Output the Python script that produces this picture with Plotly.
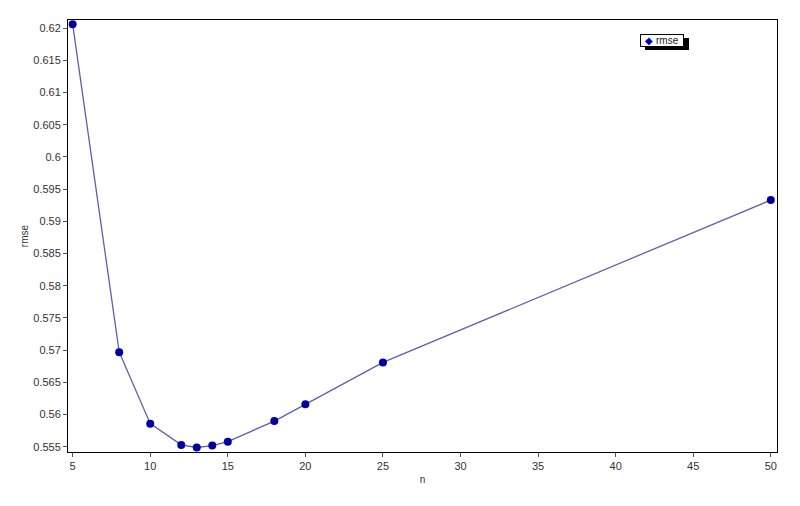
import plotly.graph_objects as go

# valeurs
n_values = [5, 8, 10, 12, 13, 14, 15, 18, 20, 25, 50]
rmse_values = [0.6206, 0.5697, 0.5586, 0.5553, 0.5549, 0.5552, 0.5558, 0.5590, 0.5616, 0.5681, 0.5933]

x_ticks = [5, 10, 15, 20, 25, 30, 35, 40, 45, 50]
y_ticks = [0.555, 0.56, 0.565, 0.57, 0.575, 0.58, 0.585, 0.59, 0.595, 0.6, 0.605, 0.61, 0.615, 0.62]

fig = go.Figure()
fig.add_trace(go.Scatter(
    x=n_values,
    y=rmse_values,
    mode='lines+markers',
    name='rmse',
    showlegend=False,
    line=dict(color='#5f5fa8', width=1.3),
    marker=dict(color='#0000a0', size=8, symbol='circle'),
))

# page html : le body a une marge de 8px, donc la figure est un peu plus petite
W, H = 792, 498
L, R, T, B = 60, 23, 12, 54
pw, ph = W - L - R, H - T - B


def px_x(px):
    return (px - 8 - L) / pw


def px_y(py):
    return (8 + T + ph - py) / ph


# petite légende encadrée avec ombre (style SAS)
leg_x, leg_y, leg_w, leg_h = 640, 34, 44, 13
fig.add_shape(
    type='rect', xref='paper', yref='paper',
    x0=px_x(leg_x + 5), x1=px_x(leg_x + leg_w + 5),
    y0=px_y(leg_y + leg_h + 3), y1=px_y(leg_y + 4),
    fillcolor='black', line=dict(width=0), layer='above',
)
fig.add_annotation(
    xref='paper', yref='paper',
    x=px_x(leg_x), y=px_y(leg_y), xanchor='left', yanchor='top',
    text="<span style='color:#0000a0'>◆</span> rmse",
    showarrow=False,
    width=leg_w - 2, height=leg_h - 2, align='center', valign='middle',
    borderpad=0, borderwidth=1, bordercolor='black', bgcolor='white',
    font=dict(family='Liberation Sans, Arial', size=10, color='#222222'),
)

axis_font = dict(family='Liberation Sans, Arial', size=11, color='#333333')

fig.update_layout(
    width=W,
    height=H,
    paper_bgcolor='white',
    plot_bgcolor='white',
    margin=dict(l=L, r=R, t=T, b=B),
    font=axis_font,
    showlegend=False,
    xaxis=dict(
        range=[4.7, 50.4],
        tickvals=x_ticks,
        ticks='outside', ticklen=4, tickcolor='#555555',
        showgrid=False, zeroline=False,
        showline=True, linecolor='black', linewidth=1, mirror=True,
        title=dict(text='n', font=dict(size=10, color='#333333'), standoff=4),
    ),
    yaxis=dict(
        range=[0.5542, 0.62125],
        tickvals=y_ticks,
        ticks='outside', ticklen=4, tickcolor='#555555',
        showgrid=False, zeroline=False,
        showline=True, linecolor='black', linewidth=1, mirror=True,
        title=dict(text='rmse', font=dict(size=10, color='#333333'), standoff=2),
    ),
)

fig.write_html("out.html")
